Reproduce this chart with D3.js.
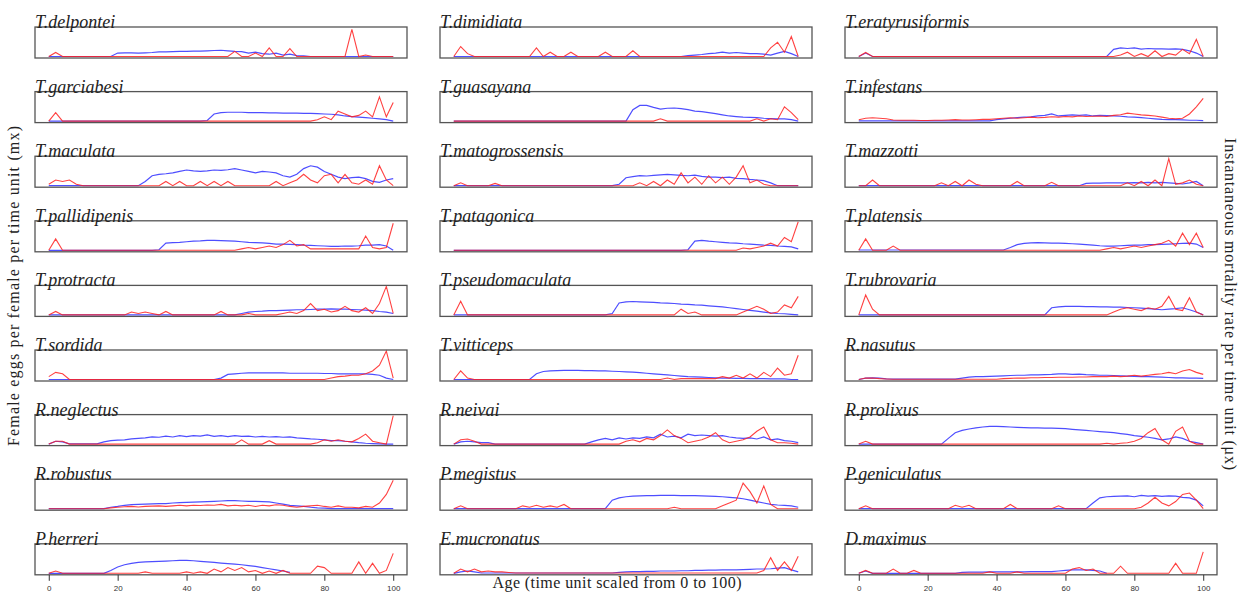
<!DOCTYPE html>
<html>
<head>
<meta charset="utf-8">
<script src="https://cdn.jsdelivr.net/npm/d3@7"></script>
<style>
  body { margin: 0; background: #fff; }
</style>
</head>
<body>
<div id="chart"></div>
<script>
// Data: age grid (scaled 0-100), species, fecundity (mx) and mortality (ux) rows
var ages = [0,2,4,6,8,10,12,14,16,18,20,22,24,26,28,30,32,34,36,38,40,42,44,46,48,50,
            52,54,56,58,60,62,64,66,68,70,72,74,76,78,80,82,84,86,88,90,92,94,96,98,100];

var species = ["T.delpontei","T.dimidiata","T.eratyrusiformis",
               "T.garciabesi","T.guasayana","T.infestans",
               "T.maculata","T.matogrossensis","T.mazzotti",
               "T.pallidipenis","T.patagonica","T.platensis",
               "T.protracta","T.pseudomaculata","T.rubrovaria",
               "T.sordida","T.vitticeps","R.nasutus",
               "R.neglectus","R.neivai","R.prolixus",
               "R.robustus","P.megistus","P.geniculatus",
               "P.herreri","E.mucronatus","D.maximus"];

var axisTicks = [0,20,40,60,80,100];

// female eggs per female per time unit (relative, blue)
var mxRows = [
  [0,0,0,0,0,0,0,0,0,0, 12,13,13,12,13,14,16,16,17,18, 18,19,19,20,21,22,20,18,17,12, 15,10,8,12,5,8,3,2,0,0, 0,0,0,0,0,0,0,0,0,0, 0],
  [0,0,0,0,0,0,0,0,0,0, 0,0,0,0,0,0,0,0,0,0, 0,0,0,0,0,0,0,0,0,0, 0,0,0,0,3,5,7,10,12,15, 12,14,12,10,10,8,5,12,18,10, 0],
  [0,12,0,0,0,0,0,0,0,0, 0,0,0,0,0,0,0,0,0,0, 0,0,0,0,0,0,0,0,0,0, 0,0,0,0,0,0,0,25,30,28, 30,26,28,27,27,26,27,25,20,12, 0],
  [0,0,0,0,0,0,0,0,0,0, 0,0,0,0,0,0,0,0,0,0, 0,0,0,2,25,30,31,31,31,30, 30,30,29,29,28,28,28,27,27,26, 25,24,22,18,16,14,12,10,8,5, 0],
  [0,0,0,0,0,0,0,0,0,0, 0,0,0,0,0,0,0,0,0,0, 0,0,0,0,0,0,40,55,55,48, 42,45,46,44,40,35,33,30,26,22, 18,16,14,13,12,10,9,8,8,5, 0],
  [1,1,1,1,1,1,1,1,1,1, 1,1,1,1,1,1,1,1,1,1, 5,8,10,12,14,15,18,20,25,18, 20,22,20,22,18,20,19,18,17,15, 14,12,10,8,6,5,5,4,3,3, 2],
  [0,0,0,0,0,0,0,0,0,0, 0,0,0,0,15,35,40,42,45,50, 55,52,50,52,55,54,56,60,55,50, 45,50,48,45,35,30,40,60,70,65, 50,40,30,25,28,30,25,15,12,20, 25],
  [0,0,0,0,0,0,0,0,0,0, 0,0,0,0,0,0,0,0,0,0, 0,0,0,0,5,28,32,35,34,36, 38,40,38,36,35,37,33,30,30,28, 30,26,25,22,20,18,10,0,0,0, 0],
  [0,0,0,0,0,0,0,0,0,0, 0,0,0,0,0,0,0,0,0,0, 0,0,0,0,0,0,0,0,0,0, 0,0,0,8,9,9,10,10,10,10, 11,10,12,10,12,10,8,6,10,15, 0],
  [0,0,0,0,0,0,0,0,0,0, 0,0,0,0,0,0,2,25,27,28, 30,32,33,35,35,34,33,32,30,28, 27,26,24,22,22,21,20,18,17,16, 15,14,14,15,15,16,18,18,20,15, 0],
  [0,0,0,0,0,0,0,0,0,0, 0,0,0,0,0,0,0,0,0,0, 0,0,0,0,0,0,0,0,0,0, 0,0,0,0,2,32,35,32,30,28, 26,25,23,22,20,18,17,15,14,12, 5],
  [1,1,1,1,1,1,1,1,1,1, 1,1,1,1,1,1,1,1,1,1, 1,1,10,20,24,26,27,26,25,25, 24,23,22,20,18,16,15,15,16,17, 18,18,20,20,21,22,23,24,25,22, 10],
  [0,0,0,0,0,0,0,0,0,0, 0,0,0,0,0,0,0,0,0,0, 0,0,0,0,0,0,0,0,5,10, 12,13,15,15,16,17,18,18,19,20, 20,21,20,20,19,18,17,15,12,10, 5],
  [0,0,0,0,0,0,0,0,0,0, 0,0,0,0,0,0,0,0,0,0, 0,0,0,5,42,46,47,46,45,44, 42,41,40,38,37,35,34,32,30,28, 25,22,19,16,13,10,7,5,4,2, 0],
  [0,0,0,0,0,0,0,0,0,0, 0,0,0,0,0,0,0,0,0,0, 0,0,0,0,0,0,0,0,25,28, 30,30,30,29,29,28,28,27,27,26, 25,24,22,20,18,20,22,25,18,10, 0],
  [0,0,0,0,0,0,0,0,0,0, 0,0,0,0,0,0,0,0,0,0, 0,0,0,0,0,5,18,20,22,23, 23,23,23,23,23,22,22,22,22,22, 21,21,20,20,20,20,20,18,15,5, 0],
  [0,0,0,0,0,0,0,0,0,0, 0,0,20,28,30,31,32,32,32,31, 31,30,30,29,28,27,26,24,22,20, 18,16,14,12,10,9,8,7,6,5, 5,4,4,3,3,3,2,2,2,0, 0],
  [0,5,6,5,2,1,1,1,1,1, 1,1,1,1,1,5,8,10,10,11, 12,13,14,15,15,16,16,17,18,20, 20,18,19,17,16,15,15,14,13,12, 11,10,10,9,8,7,6,6,5,5, 4],
  [0,10,8,1,1,1,1,1,8,12, 14,15,18,20,22,25,24,28,25,30, 26,30,28,32,27,30,26,30,27,28, 25,27,25,26,24,25,22,20,18,17, 15,12,12,10,8,5,3,2,1,0, 0],
  [0,8,10,8,5,5,0,0,0,0, 0,0,0,0,0,0,0,0,0,0, 8,15,20,15,22,18,22,20,25,22, 35,25,28,22,35,30,32,30,28,30, 25,22,20,22,18,25,15,18,12,10, 5],
  [0,0,0,0,0,0,0,0,0,0, 0,0,0,20,40,48,53,57,60,62, 62,61,60,59,58,57,57,56,56,55, 54,52,50,48,46,44,42,40,37,34, 30,27,24,20,15,18,25,20,10,5, 0],
  [0,0,0,0,0,0,0,0,0,5, 8,12,14,15,16,17,18,18,20,21, 22,23,24,25,26,27,28,28,27,26, 26,25,24,20,16,12,10,8,5,3, 2,0,0,0,0,0,0,0,0,0, 0],
  [0,0,0,0,0,0,0,0,0,0, 0,0,0,0,0,0,0,0,0,0, 0,0,0,30,38,42,44,45,46,46, 47,47,47,46,46,46,45,44,43,42, 40,38,35,30,25,20,15,13,12,10, 5],
  [0,0,0,0,0,0,0,0,0,0, 0,0,0,0,0,0,0,0,0,0, 0,0,0,0,0,0,0,0,0,0, 0,0,0,0,20,38,42,43,44,45, 42,47,44,46,43,45,44,40,38,30, 10],
  [0,0,0,0,0,0,0,0,0,10, 22,30,35,38,40,41,42,43,44,45, 45,44,42,40,38,36,34,32,30,27, 24,20,16,12,8,3,null,null,null,null, null,null,null,null,null,null,null,null,null,null, null],
  [0,5,8,5,1,1,1,1,1,1, 1,1,1,1,1,1,1,1,1,1, 1,1,1,1,3,5,6,6,7,7, 8,8,8,9,9,10,10,11,11,12, 12,12,13,14,15,15,16,18,20,12, 5],
  [0,8,0,0,0,0,0,0,0,0, 0,0,0,0,0,3,4,4,4,5, 5,5,5,5,5,6,6,6,6,8, 10,12,12,12,10,8,0,null,null,null, null,null,null,null,null,null,null,null,null,null, null]
];

// instantaneous mortality rate per time unit (relative, red)
var muRows = [
  [0,14,0,0,0,0,0,0,0,0, 0,0,0,0,0,0,0,0,0,0, 0,0,0,0,0,0,0,18,0,0, 12,0,30,0,0,28,0,0,0,0, 0,0,0,0,95,0,5,0,0,0, 0],
  [0,35,10,0,0,0,0,0,0,0, 0,0,30,0,15,0,0,15,0,0, 0,0,15,0,0,0,20,0,0,0, 0,0,0,0,0,0,0,0,0,0, 0,0,0,0,0,0,30,50,15,70, 0],
  [0,14,0,0,0,0,0,0,0,0, 0,0,0,0,0,0,0,0,0,0, 0,0,0,0,0,0,0,0,0,0, 0,0,0,0,0,0,0,0,5,15, 0,10,0,20,0,10,5,25,10,60, 0],
  [0,30,0,0,0,0,0,0,0,0, 0,0,0,0,0,0,0,0,0,0, 0,0,0,0,0,0,0,0,0,0, 0,0,0,0,0,0,0,0,0,5, 15,5,35,25,15,20,35,15,85,15, 65],
  [0,0,0,0,0,0,0,0,0,0, 0,0,0,0,0,0,0,0,0,0, 0,0,0,0,0,0,0,0,0,0, 8,0,0,0,0,0,0,0,0,0, 0,0,0,0,8,0,8,5,50,30, 5],
  [5,10,12,10,8,4,3,3,3,2, 2,3,3,4,5,4,4,5,6,6, 8,10,12,10,12,14,12,13,15,14, 16,15,18,16,17,18,16,20,22,28, 25,22,20,18,14,10,8,10,25,50, 80],
  [5,20,15,20,5,0,0,0,0,0, 0,0,0,0,0,0,0,15,0,15, 0,0,15,0,15,0,15,0,0,0, 0,0,0,15,0,10,20,40,20,10, 35,40,10,40,10,5,20,5,70,20, 0],
  [0,10,0,0,0,0,8,0,0,0, 0,0,0,0,0,0,0,0,0,0, 0,0,0,0,0,0,0,10,0,15, 0,20,5,45,10,30,5,35,10,30, 5,30,70,10,20,5,0,0,0,0, 0],
  [0,0,20,0,0,0,0,0,0,0, 0,0,10,0,15,0,20,5,0,0, 0,0,0,15,0,0,0,0,12,0, 0,0,0,0,0,0,0,0,0,10, 0,15,0,20,0,95,5,10,20,5, 0],
  [0,40,0,0,0,0,0,0,0,0, 0,0,0,0,0,0,0,0,0,0, 0,0,0,0,0,0,0,0,5,10, 5,10,15,10,20,35,15,20,5,5, 5,5,5,5,5,5,50,10,5,10, 95],
  [0,0,0,0,0,0,0,0,0,0, 0,0,0,0,0,0,0,0,0,0, 0,0,0,0,0,0,0,0,0,0, 0,0,0,0,0,0,0,0,0,0, 0,0,8,5,10,15,25,15,45,30, 100],
  [0,40,0,0,0,15,0,0,0,0, 0,0,0,0,0,0,0,0,0,0, 0,0,0,0,0,0,0,0,0,0, 0,0,0,0,0,0,5,10,5,10, 15,10,15,20,25,35,15,60,20,60, 10],
  [0,12,0,0,0,0,0,0,0,0, 0,0,10,5,10,5,0,12,0,0, 0,0,0,0,0,12,0,0,0,5, 0,0,0,0,5,10,5,15,40,15, 20,10,15,30,15,10,25,5,40,100, 5],
  [0,48,0,0,0,0,0,0,0,0, 0,0,0,0,0,0,0,0,0,0, 0,0,0,0,0,0,0,0,0,0, 0,0,0,20,5,10,0,0,0,0, 0,0,10,20,30,20,5,10,35,25, 65],
  [0,70,20,0,0,0,0,0,0,0, 0,0,0,0,0,0,0,0,0,0, 0,0,0,0,0,0,0,0,0,0, 0,0,0,0,0,0,0,10,20,25, 20,15,25,20,30,65,20,15,60,10, 0],
  [10,25,20,0,0,0,0,0,0,0, 0,0,0,0,0,0,0,0,0,0, 0,0,0,0,0,0,0,0,0,0, 0,0,0,0,0,0,0,0,0,0, 0,5,10,12,15,15,20,30,50,100, 5],
  [0,30,5,0,0,0,0,0,0,0, 0,0,0,0,0,0,0,0,0,0, 0,0,0,0,0,0,0,0,0,0, 0,5,0,3,3,3,3,3,3,10, 5,15,5,20,5,25,10,40,15,20, 85],
  [0,5,5,3,2,1,1,1,1,1, 1,1,1,1,1,1,1,1,1,1, 1,3,4,5,5,6,6,7,7,8, 8,8,9,9,10,10,10,12,10,12, 15,12,15,18,20,25,20,30,35,25, 18],
  [0,10,10,0,0,0,0,0,0,0, 0,0,0,0,0,0,0,0,0,0, 0,0,0,0,0,0,0,0,15,0, 0,0,12,0,0,0,0,0,0,5, 15,10,15,10,8,20,35,10,5,0, 100],
  [0,15,18,10,0,0,0,0,0,0, 0,0,0,0,0,0,0,0,0,0, 0,0,0,0,0,10,15,8,20,15, 30,50,30,20,5,10,15,25,40,15, 5,10,15,25,45,60,15,5,5,3, 0],
  [0,10,0,0,0,0,0,0,0,0, 0,0,0,0,0,0,0,0,0,0, 0,0,0,0,0,0,0,0,0,0, 0,0,0,0,0,0,3,0,3,5, 10,20,40,55,15,0,45,60,10,0, 0],
  [0,0,0,0,0,0,0,0,0,3, 5,7,8,6,8,9,10,8,10,12, 10,12,11,13,12,15,10,12,10,12, 8,12,10,14,12,8,5,8,10,12, 8,5,10,5,5,3,8,5,20,50, 100],
  [0,10,0,0,0,0,0,0,0,0, 10,5,12,5,10,5,15,0,0,0, 0,0,0,0,0,0,0,0,0,0, 0,0,5,0,0,0,0,0,0,10, 20,30,90,60,20,80,15,0,0,0, 0],
  [0,10,0,0,0,0,0,0,0,0, 0,0,0,0,12,5,12,0,0,0, 0,0,15,0,0,0,0,0,0,10, 0,0,0,0,0,0,0,0,0,0, 0,5,20,40,20,10,25,50,55,30, 0],
  [0,8,0,0,0,0,0,0,0,0, 0,0,0,0,5,0,0,0,0,0, 5,0,5,0,15,5,20,10,20,5, 10,0,8,0,10,0,0,0,0,25, 20,0,0,0,0,40,0,35,0,10, 70],
  [0,15,5,15,5,8,5,5,3,1, 1,1,1,1,1,1,1,1,1,1, 1,1,1,1,1,1,1,1,1,1, 1,1,1,1,1,1,1,1,1,1, 1,1,1,1,1,10,55,10,40,10, 60],
  [0,10,0,0,0,15,0,0,10,0, 0,0,0,0,0,0,0,0,0,5, 0,0,0,5,0,0,0,0,0,0, 0,15,20,10,15,0,0,0,25,0, 0,0,0,0,0,0,35,0,0,0, 75]
];

// Layout parameters
var svgWidth = 1243;
var svgHeight = 597;

var panel = {
  left: 35,
  colStep: 405,
  top: 27,
  rowStep: 64.6,
  width: 372,
  height: 31
};

var svg = d3.select("#chart")
  .append("svg")
  .attr("width", svgWidth)
  .attr("height", svgHeight)
  .style("font-family", "'Liberation Serif', serif");

// Scales shared by every panel (R style 4% padding on x)
var xScale = d3.scaleLinear()
  .domain([-4, 104])
  .range([0, panel.width]);

var yScale = d3.scaleLinear()
  .domain([0, 100])
  .range([panel.height - 1.5, 1]);

var lineGen = d3.line()
  .defined(d => d[1] !== null)
  .x(d => xScale(d[0]))
  .y(d => yScale(d[1]));

species.forEach(function(name, i) {
  var row = Math.floor(i / 3);
  var col = i % 3;

  var g = svg.append("g")
    .attr("transform", `translate(${panel.left + col * panel.colStep}, ${panel.top + row * panel.rowStep})`);

  // fecundity (blue)
  g.append("path")
    .datum(ages.map((a, k) => [a, mxRows[i][k]]))
    .attr("d", lineGen)
    .attr("fill", "none")
    .attr("stroke", "#3b3bff")
    .attr("stroke-width", 1.2)
    .attr("stroke-opacity", 0.9);

  // mortality (red)
  g.append("path")
    .datum(ages.map((a, k) => [a, muRows[i][k]]))
    .attr("d", lineGen)
    .attr("fill", "none")
    .attr("stroke", "#ff2020")
    .attr("stroke-width", 1.1)
    .attr("stroke-opacity", 0.85);

  // panel box
  g.append("rect")
    .attr("x", 0)
    .attr("y", 0)
    .attr("width", panel.width)
    .attr("height", panel.height)
    .attr("fill", "none")
    .attr("stroke", "#555")
    .attr("stroke-width", 1.3);

  // species title
  g.append("text")
    .attr("x", 0)
    .attr("y", 1)
    .attr("font-style", "italic")
    .attr("font-size", "18px")
    .attr("fill", "#222")
    .text(name);

  // bottom axis only under the outer bottom panels
  if (row === 8 && col !== 1) {
    var axis = g.append("g")
      .attr("transform", `translate(0, ${panel.height})`)
      .call(d3.axisBottom(xScale).tickValues(axisTicks).tickSize(6).tickPadding(5));
    axis.select(".domain").remove();
    axis.selectAll("line").attr("stroke", "#333");
    axis.selectAll("text")
      .attr("font-family", "'Liberation Sans', sans-serif")
      .attr("font-size", "8px")
      .attr("fill", "#333");
  }
});

// Axis titles
svg.append("text")
  .attr("transform", "translate(19, 286) rotate(-90)")
  .attr("text-anchor", "middle")
  .attr("font-size", "16px")
  .attr("textLength", 320)
  .attr("lengthAdjust", "spacing")
  .attr("fill", "#222")
  .text("Female eggs per female per time unit (mx)");

svg.append("text")
  .attr("transform", "translate(1225, 304) rotate(90)")
  .attr("text-anchor", "middle")
  .attr("font-size", "16px")
  .attr("textLength", 332)
  .attr("lengthAdjust", "spacing")
  .attr("fill", "#222")
  .text("Instantaneous mortality rate per time unit (\u03bcx)");

svg.append("text")
  .attr("x", 617)
  .attr("y", 588)
  .attr("text-anchor", "middle")
  .attr("font-size", "16px")
  .attr("textLength", 249)
  .attr("lengthAdjust", "spacing")
  .attr("fill", "#222")
  .text("Age (time unit scaled from 0 to 100)");
</script>
</body>
</html>
